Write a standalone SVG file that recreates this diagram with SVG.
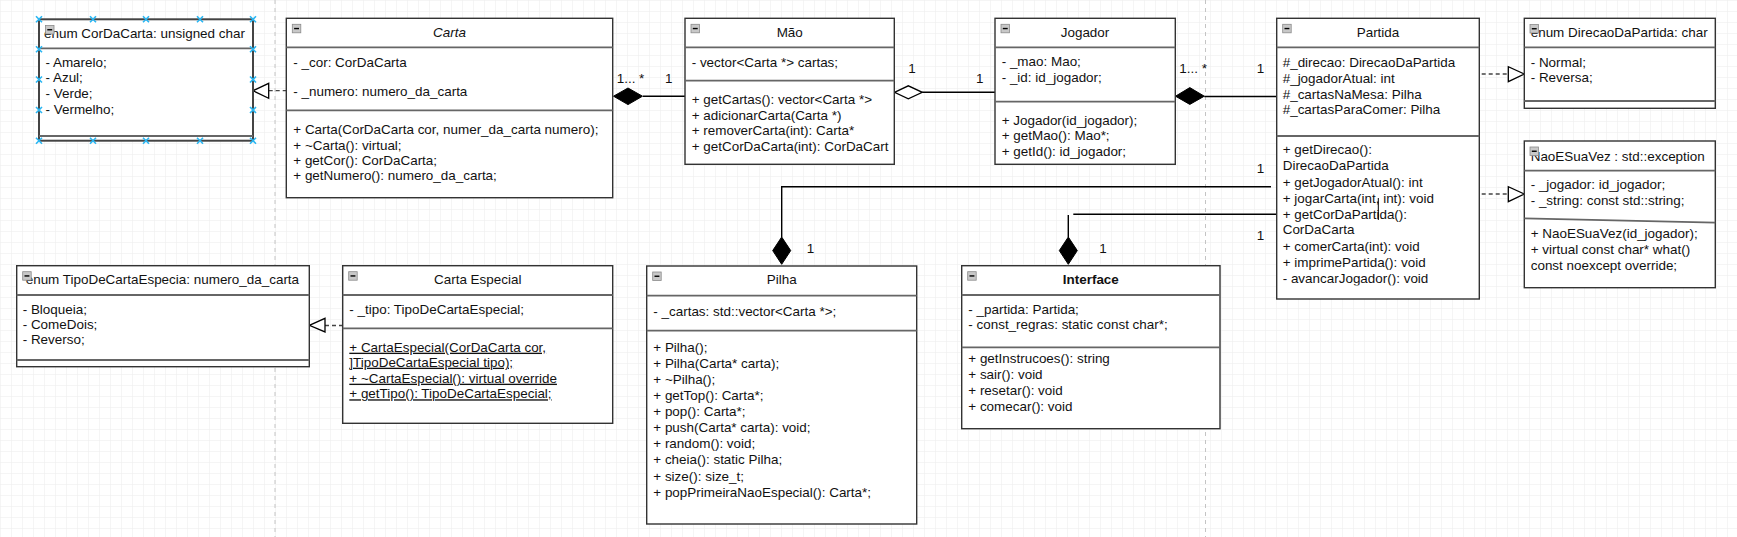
<svg xmlns="http://www.w3.org/2000/svg" width="1737" height="537" viewBox="0 0 1737 537">
<defs>
<pattern id="grid" x="275" y="0" width="11" height="11" patternUnits="userSpaceOnUse">
<path d="M11 0H0V11" fill="none" stroke="#ececec" stroke-width="1"/>
</pattern>
<g id="icon"><rect x="0" y="0" width="8.5" height="8.5" fill="#c8c8c8" stroke="#8a8a8a" stroke-width="0.8"/><path d="M1.8 4.25H6.7" stroke="#000" stroke-width="1.4"/></g>
<path id="hx" d="M-3 -3L3 3M3 -3L-3 3" stroke="#29b6f2" stroke-width="1.6" fill="none"/>
<clipPath id="clipP"><rect x="1276" y="18" width="204" height="267.5"/></clipPath>
</defs>
<style>
text{font-family:"Liberation Sans",Arial,sans-serif;font-size:13.45px;fill:#111}
.box{fill:#fff;stroke:#333;stroke-width:1.4}
.div{stroke:#666;stroke-width:1.8;fill:none}
.t{text-anchor:middle}
.u{text-decoration:underline}
.ln{stroke:#000;stroke-width:1.4;fill:none}
.dash{stroke:#444;stroke-width:1.3;stroke-dasharray:4 3;fill:none}
.tri{fill:#fff;stroke:#000;stroke-width:1.3}
.dia{fill:#000;stroke:#000;stroke-width:1}
.page{stroke:#c4c4c4;stroke-width:1;stroke-dasharray:4 4}
</style>
<rect width="1737" height="537" fill="#fff"/>
<rect width="1737" height="537" fill="url(#grid)"/>
<path class="page" d="M275 0V537M1205.5 0V537"/>

<g id="connectors">
<path class="dash" d="M268.7 90.7H286.3"/>
<polygon class="tri" points="253,90.7 268.7,83.3 268.7,98.3"/>
<path class="ln" d="M643 96.2H685"/>
<polygon class="dia" points="613.5,96.2 628,88 642.5,96.2 628,104.6"/>
<text x="616.7" y="83">1... *</text>
<text x="665" y="83">1</text>
<path class="ln" d="M922.3 92.3H995"/>
<polygon class="tri" points="894.5,92.3 908.3,85.8 922.3,92.3 908.3,98.8"/>
<text x="908.3" y="72.7">1</text>
<text x="976" y="83.3">1</text>
<path class="ln" d="M1204.3 96.5H1276.7"/>
<polygon class="dia" points="1175.5,96.2 1189.8,87.6 1204.3,96.2 1189.8,104.4"/>
<text x="1179.3" y="72.7">1... *</text>
<text x="1256.7" y="72.7">1</text>
<path class="ln" d="M1271 186.7H781.7V237"/>
<polygon class="dia" points="781.7,237 790.7,250.6 781.7,264.3 772.7,250.6"/>
<text x="1256.7" y="173.3">1</text>
<text x="806.7" y="252.7">1</text>
<path class="ln" d="M1073.3 214.3H1276.7M1068.3 215V237"/>
<polygon class="dia" points="1068.3,237 1077.3,250.6 1068.3,264.3 1059.3,250.6"/>
<text x="1099.3" y="252.7">1</text>
<text x="1256.7" y="240">1</text>
<path class="dash" d="M1481.7 74H1508.3"/>
<polygon class="tri" points="1524.3,74 1508.3,66.7 1508.3,81.7"/>
<path class="dash" d="M1481.7 194H1508.3"/>
<polygon class="tri" points="1524.3,194 1508.3,186.7 1508.3,201.7"/>
<path class="dash" d="M325 325.5H342.7"/>
<polygon class="tri" points="309.3,325.3 325,318.3 325,331.9"/>
</g>

<g id="CorDaCarta">
<rect class="box" x="39" y="19.3" width="214" height="121.4" style="stroke-width:2;stroke:#444"/>
<path class="div" d="M39 48.3H253M39 136H253"/>
<text x="44" y="38">enum CorDaCarta: unsigned char</text>
<use href="#icon" x="45.5" y="25.5"/>
<text x="45.5" y="66.5">- Amarelo;</text>
<text x="45.5" y="82.3">- Azul;</text>
<text x="45.5" y="98.1">- Verde;</text>
<text x="45.5" y="113.9">- Vermelho;</text>
<use href="#hx" x="39" y="19.3"/><use href="#hx" x="93" y="19.3"/><use href="#hx" x="146" y="19.3"/><use href="#hx" x="200" y="19.3"/><use href="#hx" x="253" y="19.3"/>
<use href="#hx" x="39" y="140.7"/><use href="#hx" x="93" y="140.7"/><use href="#hx" x="146" y="140.7"/><use href="#hx" x="200" y="140.7"/><use href="#hx" x="253" y="140.7"/>
<use href="#hx" x="39" y="49.3"/><use href="#hx" x="39" y="79.5"/><use href="#hx" x="39" y="110"/>
<use href="#hx" x="253" y="49.3"/><use href="#hx" x="253" y="79.5"/><use href="#hx" x="253" y="110"/>
</g>

<g id="Carta">
<rect class="box" x="286.3" y="18.3" width="326.4" height="179.4"/>
<path class="div" d="M286.3 47.3H612.7M286.3 110.3H612.7"/>
<use href="#icon" x="292.3" y="24.3"/>
<text class="t" x="449.5" y="37.3" font-style="italic">Carta</text>
<text x="293.3" y="66.7">- _cor: CorDaCarta</text>
<text x="293.3" y="95.7">- _numero: numero_da_carta</text>
<text x="293.3" y="134.3">+ Carta(CorDaCarta cor, numer_da_carta numero);</text>
<text x="293.3" y="149.7">+ ~Carta(): virtual;</text>
<text x="293.3" y="165">+ getCor(): CorDaCarta;</text>
<text x="293.3" y="180.3">+ getNumero(): numero_da_carta;</text>
</g>

<g id="Mao">
<rect class="box" x="685" y="18.3" width="209.3" height="146"/>
<path class="div" d="M685 47.3H894.3M685 80.7H894.3"/>
<use href="#icon" x="691" y="24.3"/>
<text class="t" x="789.7" y="37.3">Mão</text>
<text x="691.7" y="66.7">- vector&lt;Carta *&gt; cartas;</text>
<text x="691.7" y="104">+ getCartas(): vector&lt;Carta *&gt;</text>
<text x="691.7" y="119.5">+ adicionarCarta(Carta *)</text>
<text x="691.7" y="135">+ removerCarta(int): Carta*</text>
<text x="691.7" y="150.8">+ getCorDaCarta(int): CorDaCart</text>
</g>

<g id="Jogador">
<rect class="box" x="995" y="18.3" width="180.3" height="146"/>
<path class="div" d="M995 47.3H1175.3M995 101.7H1175.3"/>
<use href="#icon" x="1001" y="24.3"/>
<text class="t" x="1085" y="37.3">Jogador</text>
<text x="1001.7" y="66.3">- _mao: Mao;</text>
<text x="1001.7" y="81.7">- _id: id_jogador;</text>
<text x="1001.7" y="125">+ Jogador(id_jogador);</text>
<text x="1001.7" y="140.3">+ getMao(): Mao*;</text>
<text x="1001.7" y="155.7">+ getId(): id_jogador;</text>
</g>

<g id="Partida">
<rect class="box" x="1276.7" y="18.3" width="202.6" height="280.7"/>
<path class="div" d="M1276.7 47.3H1479.3M1276.7 136H1479.3"/>
<use href="#icon" x="1282.7" y="24.3"/>
<text class="t" x="1378" y="37.3">Partida</text>
<text x="1282.7" y="66.7">#_direcao: DirecaoDaPartida</text>
<text x="1282.7" y="82.7">#_jogadorAtual: int</text>
<text x="1282.7" y="98.7">#_cartasNaMesa: Pilha</text>
<text x="1282.7" y="114.3">#_cartasParaComer: Pilha</text>
<g clip-path="url(#clipP)">
<text x="1282.7" y="154">+ getDirecao():</text>
<text x="1282.7" y="169.5">DirecaoDaPartida</text>
<text x="1282.7" y="186.5">+ getJogadorAtual(): int</text>
<text x="1282.7" y="202.5">+ jogarCarta(int, int): void</text>
<text x="1282.7" y="219">+ getCorDaPartida():</text>
<text x="1282.7" y="234.3">CorDaCarta</text>
<text x="1282.7" y="250.7">+ comerCarta(int): void</text>
<text x="1282.7" y="267">+ imprimePartida(): void</text>
<text x="1282.7" y="283.3">- avancarJogador(): void</text>
</g>
<path d="M1378.3 198V220" stroke="#000" stroke-width="1"/>
</g>

<g id="DirecaoDaPartida">
<rect class="box" x="1524.3" y="18.3" width="191" height="90"/>
<path class="div" d="M1524.3 47.3H1715.3M1524.3 101H1715.3"/>
<text x="1530.7" y="37.3">enum DirecaoDaPartida: char</text>
<use href="#icon" x="1530" y="24.5"/>
<text x="1530.7" y="66.7">- Normal;</text>
<text x="1530.7" y="82.3">- Reversa;</text>
</g>

<g id="NaoESuaVez">
<rect class="box" x="1524.3" y="141" width="191" height="146.7"/>
<path class="div" d="M1524.3 170.7H1715.3M1524.3 218.3L1715.3 222.7"/>
<text x="1530.7" y="160.7">NaoESuaVez : std::exception</text>
<use href="#icon" x="1530" y="147"/>
<text x="1530.7" y="189.3">- _jogador: id_jogador;</text>
<text x="1530.7" y="205">- _string: const std::string;</text>
<text x="1530.7" y="238.3">+ NaoESuaVez(id_jogador);</text>
<text x="1530.7" y="254">+ virtual const char* what()</text>
<text x="1530.7" y="270">const noexcept override;</text>
</g>

<g id="TipoDeCartaEspecia">
<rect class="box" x="16.7" y="265.7" width="292.6" height="101"/>
<path class="div" d="M16.7 295H309.3M16.7 360H309.3"/>
<text x="25.7" y="284.3">enum TipoDeCartaEspecia: numero_da_carta</text>
<use href="#icon" x="22.7" y="271.7"/>
<text x="22.7" y="314.3">- Bloqueia;</text>
<text x="22.7" y="329.3">- ComeDois;</text>
<text x="22.7" y="344.3">- Reverso;</text>
</g>

<g id="CartaEspecial">
<rect class="box" x="342.7" y="265.7" width="270" height="157.6"/>
<path class="div" d="M342.7 295H612.7M342.7 328.3H612.7"/>
<use href="#icon" x="348.7" y="271.7"/>
<text class="t" x="477.7" y="284.3">Carta Especial</text>
<text x="349.3" y="314.3">- _tipo: TipoDeCartaEspecial;</text>
<text class="u" x="349.3" y="351.7">+ CartaEspecial(CorDaCarta cor,</text>
<text class="u" x="349.3" y="366.7">]TipoDeCartaEspecial tipo);</text>
<text class="u" x="349.3" y="382.7">+ ~CartaEspecial(): virtual override</text>
<text class="u" x="349.3" y="398.3">+ getTipo(): TipoDeCartaEspecial;</text>
</g>

<g id="Pilha">
<rect class="box" x="646.7" y="266" width="270" height="258"/>
<path class="div" d="M646.7 295.7H916.7M646.7 330.7H916.7"/>
<use href="#icon" x="652.7" y="272"/>
<text class="t" x="781.7" y="284.3">Pilha</text>
<text x="653.3" y="315.7">- _cartas: std::vector&lt;Carta *&gt;;</text>
<text x="653.3" y="351.7">+ Pilha();</text>
<text x="653.3" y="367.8">+ Pilha(Carta* carta);</text>
<text x="653.3" y="383.9">+ ~Pilha();</text>
<text x="653.3" y="400">+ getTop(): Carta*;</text>
<text x="653.3" y="416.1">+ pop(): Carta*;</text>
<text x="653.3" y="432.2">+ push(Carta* carta): void;</text>
<text x="653.3" y="448.3">+ random(): void;</text>
<text x="653.3" y="464.4">+ cheia(): static Pilha;</text>
<text x="653.3" y="480.5">+ size(): size_t;</text>
<text x="653.3" y="496.6">+ popPrimeiraNaoEspecial(): Carta*;</text>
</g>

<g id="Interface">
<rect class="box" x="961.7" y="265.7" width="258.3" height="163"/>
<path class="div" d="M961.7 295H1220M961.7 347.3H1220"/>
<use href="#icon" x="967.7" y="271.7"/>
<text class="t" x="1090.8" y="284.3" font-weight="bold">Interface</text>
<text x="968.3" y="314.3">- _partida: Partida;</text>
<text x="968.3" y="329.3">- const_regras: static const char*;</text>
<text x="968.3" y="363.3">+ getInstrucoes(): string</text>
<text x="968.3" y="378.9">+ sair(): void</text>
<text x="968.3" y="394.8">+ resetar(): void</text>
<text x="968.3" y="410.7">+ comecar(): void</text>
</g>
</svg>
